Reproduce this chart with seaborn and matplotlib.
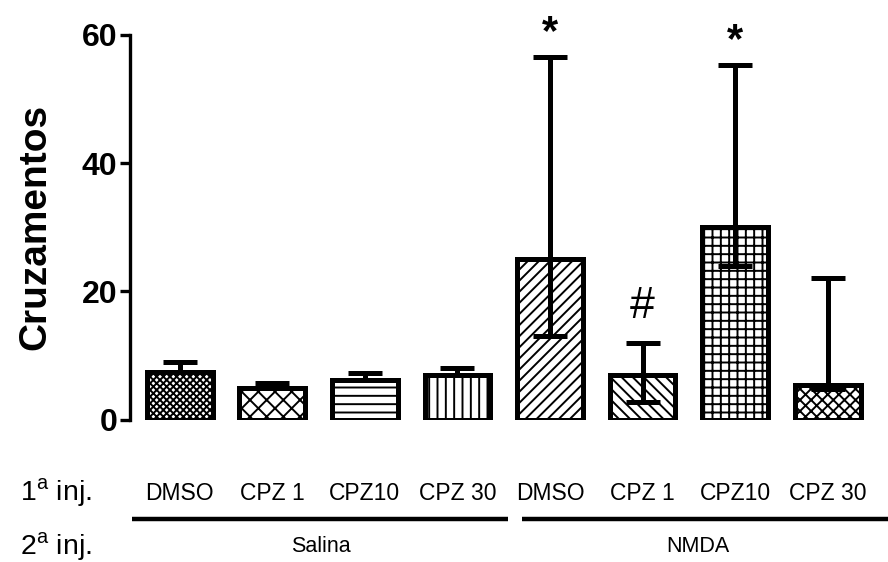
import matplotlib
matplotlib.use("Agg")
import matplotlib.pyplot as plt
import matplotlib.transforms as mtransforms
import seaborn as sns
import pandas as pd
import numpy as np

# Treatment groups (1st injection) and the 2nd-injection blocks
first_inj = ["DMSO", "CPZ 1", "CPZ10", "CPZ 30", "DMSO", "CPZ 1", "CPZ10", "CPZ 30"]
second_inj = ["Salina", "Salina", "Salina", "Salina", "NMDA", "NMDA", "NMDA", "NMDA"]
group_names = ["Salina", "NMDA"]

# Bar heights and the lower / upper whisker ends
values = [7.5, 5.0, 6.2, 7.0, 25.0, 7.0, 30.0, 5.5]
err_low = [7.5, 5.0, 6.2, 7.0, 13.0, 2.8, 24.0, 4.8]
err_high = [9.0, 5.8, 7.3, 8.1, 56.5, 12.0, 55.3, 22.1]

# Significance marks above bars
marks = ["", "", "", "", "*", "#", "*", ""]

hatches = ["xxxxx", "xx", "--", "||", "///", "\\\\\\", "++", "xxx"]

sns.set_theme(style="white")
plt.rcParams["font.family"] = ["Liberation Sans", "DejaVu Sans"]
plt.rcParams["hatch.linewidth"] = 1.4
plt.rcParams["mathtext.fontset"] = "custom"
plt.rcParams["mathtext.rm"] = "Liberation Sans"
for key in ["text.color", "axes.labelcolor", "xtick.color", "ytick.color",
            "axes.edgecolor"]:
    plt.rcParams[key] = "black"

df = pd.DataFrame({"pos": np.arange(len(values)), "label": first_inj, "value": values})

fig = plt.figure(figsize=(8.88, 5.62), dpi=100)
ax = fig.add_axes([0.146, 0.253, 0.854, 0.685])

sns.barplot(data=df, x="pos", y="value", color="white", edgecolor="black",
            linewidth=3.6, width=0.71, errorbar=None, ax=ax)

for patch, h in zip(ax.patches, hatches):
    patch.set_hatch(h)
    patch.set_facecolor("white")
    patch.set_edgecolor("black")

x = np.arange(len(values))
vals = np.array(values)
lo = vals - np.array(err_low)
hi = np.array(err_high) - vals
ax.errorbar(x, vals, yerr=[lo, hi], fmt="none", ecolor="black",
            elinewidth=3.6, capsize=12, capthick=3.6, zorder=5)

for xi, hv, m in zip(x, err_high, marks):
    if m == "*":
        ax.text(xi, hv + 0.6, m, ha="center", va="bottom", fontsize=30,
                fontweight="bold", clip_on=False)
    elif m == "#":
        ax.text(xi, hv + 2.4, m, ha="center", va="bottom", fontsize=32,
                clip_on=False)

ax.set_xlim(-0.54, 7.65)
ax.set_ylim(0, 60)
ax.set_yticks([0, 20, 40, 60])
ax.set_yticklabels(["0", "20", "40", "60"], fontsize=23, fontweight="bold")
ax.tick_params(axis="y", length=7, width=2.4, direction="out", pad=2, left=True)
ax.set_ylabel("Cruzamentos", fontsize=28, fontweight="bold", labelpad=20)

for side in ["top", "right", "bottom"]:
    ax.spines[side].set_visible(False)
ax.spines["left"].set_linewidth(2.4)

ax.set_xticks(x)
ax.set_xticklabels(first_inj, fontsize=16.5)
ax.tick_params(axis="x", length=0, pad=45)
ax.set_xlabel("")

trans = mtransforms.blended_transform_factory(ax.transData, ax.transAxes)
# group underlines
ax.plot([-0.51, 3.55], [-0.257, -0.257], transform=trans, color="black",
        lw=3.2, clip_on=False, solid_capstyle="butt")
ax.plot([3.70, 7.7], [-0.257, -0.257], transform=trans, color="black",
        lw=3.2, clip_on=False, solid_capstyle="butt")
ax.text(1.52, -0.33, group_names[0], transform=trans, ha="center", va="center",
        fontsize=15.5)
ax.text(5.6, -0.33, group_names[1], transform=trans, ha="center", va="center",
        fontsize=15.5)

fig.text(0.022, 0.124, r"1$^{\mathregular{a}}$ inj.", fontsize=20.5, ha="left",
         va="center")
fig.text(0.022, 0.027, r"2$^{\mathregular{a}}$ inj.", fontsize=20.5, ha="left",
         va="center")

fig.savefig("out.png", dpi=100)
